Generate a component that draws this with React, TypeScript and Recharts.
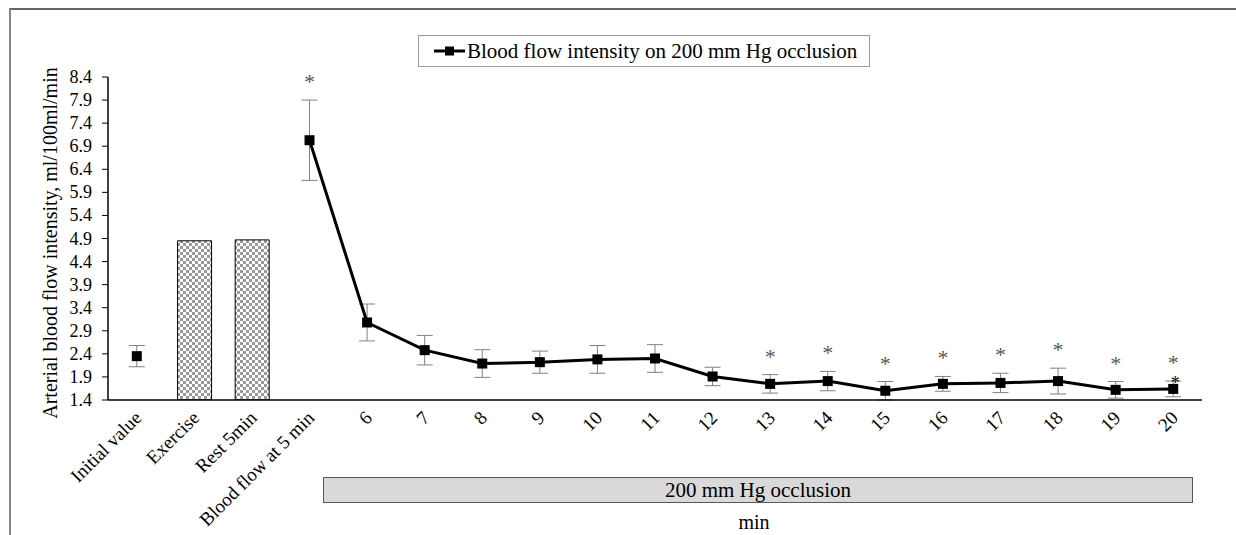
import React from "react";
import { ComposedChart, Bar, Line, XAxis, YAxis, ErrorBar, LabelList } from "recharts";

const categories = [
  "Initial value", "Exercise", "Rest 5min", "Blood flow at 5 min",
  "6", "7", "8", "9", "10", "11", "12", "13", "14", "15", "16", "17", "18", "19", "20",
];
const initialValue = [2.35, null, null, null, null, null, null, null, null, null, null, null, null, null, null, null, null, null, null];
const barValues = [null, 4.85, 4.87, null, null, null, null, null, null, null, null, null, null, null, null, null, null, null, null];
const flowMean = [null, null, null, 7.03, 3.08, 2.48, 2.19, 2.22, 2.28, 2.3, 1.91, 1.75, 1.81, 1.6, 1.75, 1.77, 1.81, 1.62, 1.64];
const flowErr = [0.23, null, null, 0.87, 0.4, 0.32, 0.3, 0.24, 0.3, 0.3, 0.2, 0.2, 0.21, 0.2, 0.16, 0.21, 0.28, 0.18, 0.17];
const stars = ["", "", "", "*", "", "", "", "", "", "", "", "*", "*", "*", "*", "*", "*", "*", "*"];
const innerStars = ["", "", "", "", "", "", "", "", "", "", "", "", "", "", "", "", "", "", "*"];
const yTicks = [1.4, 1.9, 2.4, 2.9, 3.4, 3.9, 4.4, 4.9, 5.4, 5.9, 6.4, 6.9, 7.4, 7.9, 8.4];

const rows = categories.map((name, i) => ({
  name,
  initial: initialValue[i],
  bar: barValues[i],
  mean: flowMean[i],
  err: flowErr[i],
  star: stars[i],
  innerStar: innerStars[i],
}));

const serif = "Liberation Serif";

const SquareDot = (props: any) => {
  const { cx, cy, value, index } = props;
  if (value == null || cx == null || cy == null) return <g key={"d" + index} />;
  return <rect key={"d" + index} x={cx - 5} y={cy - 5} width={10} height={10} fill="#000" />;
};

const XTick = (props: any) => {
  const { x, y, payload } = props;
  return (
    <text
      transform={`translate(${x + 6},${y + 19}) rotate(-45)`}
      textAnchor="end"
      fontFamily={serif}
      fontSize={19}
      fill="#000"
    >
      {payload.value}
    </text>
  );
};

const YTick = (props: any) => {
  const { x, y, payload } = props;
  return (
    <text x={x} y={y + 6} textAnchor="end" fontFamily={serif} fontSize={18} fill="#000">
      {payload.value.toFixed(1)}
    </text>
  );
};

const StarLabel = (props: any) => {
  const { x, y, value, index } = props;
  if (value == null || !stars[index]) return null;
  return (
    <text x={x} y={y - 11} textAnchor="middle" fontFamily={serif} fontSize={22} fill="#595959">
      {stars[index]}
    </text>
  );
};

const InnerStarLabel = (props: any) => {
  const { x, y, value, index } = props;
  if (value == null || !innerStars[index]) return null;
  return (
    <text x={x + 2} y={y} textAnchor="middle" fontFamily={serif} fontSize={18} fill="#000">
      {innerStars[index]}
    </text>
  );
};

export default function App() {
  return (
    <div style={{ position: "fixed", left: 0, top: 0, width: 1236, height: 535, overflow: "hidden", background: "#fff", fontFamily: serif }}>
      <div style={{ position: "absolute", left: 9, top: 8, width: 1400, height: 700, borderLeft: "2px solid #888", borderTop: "2px solid #666" }} />
      <ComposedChart
        width={1236}
        height={535}
        data={rows}
        margin={{ top: 77, right: 34, left: 0, bottom: 0 }}
        style={{ position: "absolute", left: 0, top: 0 }}
      >
        <defs>
          <pattern id="checker" width="6" height="6" patternUnits="userSpaceOnUse">
            <rect width="6" height="6" fill="#fff" />
            <rect x="0" y="0" width="3" height="3" fill="#9a9a9a" />
            <rect x="3" y="3" width="3" height="3" fill="#9a9a9a" />
          </pattern>
        </defs>
        <XAxis
          dataKey="name"
          interval={0}
          height={135}
          tickSize={0}
          tickMargin={0}
          tickLine={false}
          axisLine={{ stroke: "#000", strokeWidth: 1.5 }}
          tick={<XTick />}
        />
        <YAxis
          width={108}
          domain={[1.4, 8.4]}
          ticks={yTicks}
          interval={0}
          allowDataOverflow
          tickSize={6}
          tickMargin={10}
          tickLine={{ stroke: "#000" }}
          axisLine={{ stroke: "#000", strokeWidth: 1.5 }}
          tick={<YTick />}
        />
        <Bar dataKey="bar" barSize={34} fill="url(#checker)" stroke="#000" strokeWidth={1} isAnimationActive={false} />
        <Line dataKey="initial" stroke="none" dot={<SquareDot />} activeDot={false} isAnimationActive={false}>
          <ErrorBar dataKey="err" width={8} strokeWidth={1} stroke="#808080" direction="y" />
        </Line>
        <Line dataKey="mean" stroke="#000" strokeWidth={3} dot={<SquareDot />} activeDot={false} isAnimationActive={false}>
          <ErrorBar dataKey="err" width={8} strokeWidth={1} stroke="#808080" direction="y" />
          <LabelList dataKey="innerStar" content={<InnerStarLabel />} />
        </Line>
        <Line
          dataKey={(d: any) => (d.star && d.mean != null ? d.mean + d.err : null)}
          stroke="none"
          dot={false}
          activeDot={false}
          isAnimationActive={false}
        >
          <LabelList content={<StarLabel />} />
        </Line>
      </ComposedChart>

      <div style={{ position: "absolute", left: 418, top: 35, width: 450, height: 30, border: "1px solid #999", display: "flex", alignItems: "center", fontSize: 21, color: "#000" }}>
        <svg width={48} height={30} style={{ flex: "none" }}>
          <line x1={15} y1={15} x2={46} y2={15} stroke="#000" strokeWidth={3} />
          <rect x={26} y={10.5} width={9} height={9} fill="#000" />
        </svg>
        <span style={{ whiteSpace: "nowrap" }}>Blood flow intensity on 200 mm Hg occlusion</span>
      </div>

      <div style={{ position: "absolute", left: 50 - 200, top: 243 - 14, width: 400, height: 28, lineHeight: "28px", textAlign: "center", fontSize: 20, color: "#000", transform: "rotate(-90deg)", whiteSpace: "nowrap" }}>
        Arterial blood flow intensity, ml/100ml/min
      </div>

      <div style={{ position: "absolute", left: 323, top: 477, width: 868, height: 24, background: "#d9d9d9", border: "1.5px solid #595959", textAlign: "center", fontSize: 21, lineHeight: "24px", color: "#000" }}>
        200 mm Hg occlusion
      </div>

      <div style={{ position: "absolute", left: 704, top: 510, width: 100, textAlign: "center", fontSize: 20, lineHeight: "24px", color: "#000" }}>
        min
      </div>
    </div>
  );
}
